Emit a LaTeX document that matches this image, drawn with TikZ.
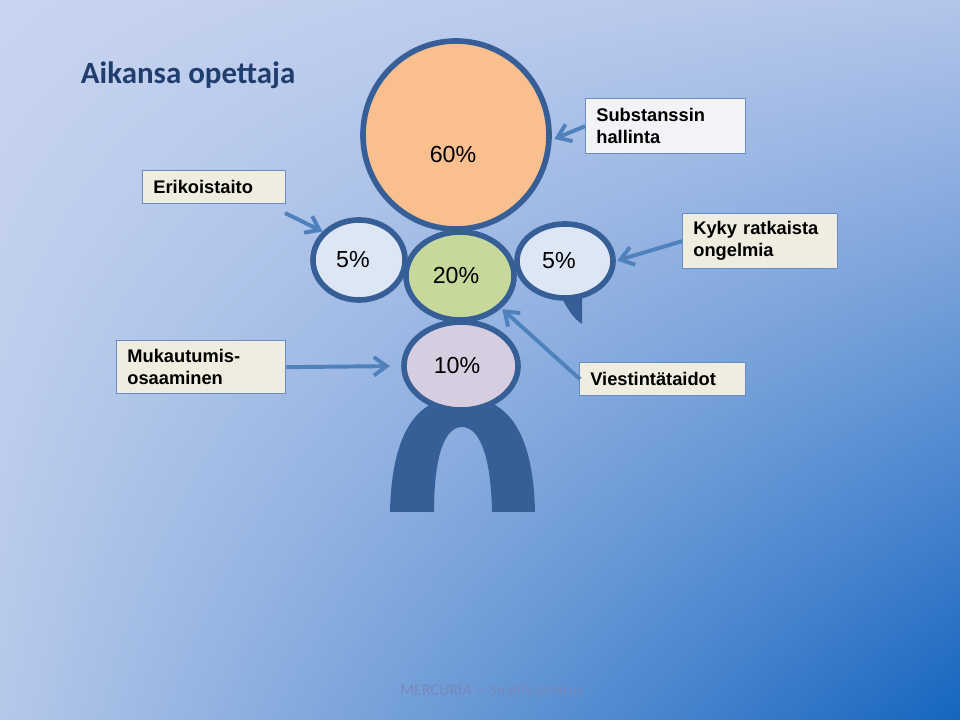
\documentclass[tikz,border=0pt]{standalone}
\usepackage{fontspec}
\setmainfont{Liberation Sans}
\newfontfamily\calibrifont{Carlito}
\usepackage{xcolor}
\usepackage{tikz}
\usetikzlibrary{shapes.geometric,shadings,calc}
\usetikzlibrary{arrows.meta,positioning}

\definecolor{bgTL}{HTML}{C8D4F0}
\definecolor{bgTR}{HTML}{B3C5EA}
\definecolor{bgBL}{HTML}{B5C8EA}
\definecolor{bgBR}{HTML}{1565C0}
\definecolor{rim}{HTML}{375F97}
\definecolor{pointer}{HTML}{4F81BD}
\definecolor{beige}{HTML}{EFECE0}
\definecolor{paper}{HTML}{F2F3F7}
\definecolor{boxline}{HTML}{6A8CC4}
\definecolor{titleblue}{HTML}{1F3E6E}
\definecolor{orangepart}{HTML}{F9BF8F}
\definecolor{greenpart}{HTML}{C6D89A}
\definecolor{lilacpart}{HTML}{D6CDE0}
\definecolor{palepart}{HTML}{DDE6F4}
\definecolor{footgray}{HTML}{7888BC}

\tikzset{
  part/.style={ellipse,draw=rim,line width=4pt,inner sep=0pt},
  pct/.style={font=\fontsize{16.5}{18}\selectfont},
  infobox/.style={draw=boxline,line width=0.8pt,anchor=north west,align=left,
    inner xsep=0.27cm,font=\bfseries\fontsize{13}{15.5}\selectfont},
  pointto/.style={draw=pointer,line width=2.8pt,-{Straight Barb[length=9pt,width=13pt]}},
}

\begin{document}
\begin{tikzpicture}[x=0.025cm,y=-0.025cm]
		\useasboundingbox (0,0) rectangle (960,720);
		\shade[upper left=bgTL,upper right=bgTR,lower left=bgBL,lower right=bgBR] (0,0) rectangle (960,720);
		\node[anchor=base west,text=titleblue,font=\calibrifont\bfseries\fontsize{22}{26}\selectfont] (title) at (76,84) {Aikansa opettaja};
		% legs and the tail of the speech bubble
		\fill[rim] (390,512) .. controls (392,420) and (425,397) .. (462,397) .. controls (500,397) and (533,420) .. (535,512) -- (492,512) .. controls (491,452) and (478,427) .. (462,427) .. controls (446,427) and (434,452) .. (434,512) -- cycle;
		\fill[rim] (558,290) .. controls (566,308) and (574,319) .. (582,324) -- (582,292) -- cycle;
		% the parts
		\node[part,fill=orangepart,minimum width=4.65cm,minimum height=4.7cm] (big) at (456,135) {};
		\node[pct] (p60) at (453,155) {60\%};
		\node[part,fill=palepart,minimum width=2.3cm,minimum height=2cm,pct] (leftfive) at (359,260) {\hspace*{-0.3cm}5\%};
		\node[part,fill=palepart,minimum width=2.4cm,minimum height=1.85cm,pct] (rightfive) at (565,261) {\hspace*{-0.3cm}5\%};
		\node[part,fill=greenpart,minimum width=2.7cm,minimum height=2.2cm,pct] (twenty) at (460,276) {\hspace*{-0.2cm}\raisebox{-0.5ex}{20\%}};
		\node[part,fill=lilacpart,minimum width=2.85cm,minimum height=2.2cm,pct] (ten) at (461,366) {\hspace*{-0.2cm}\raisebox{-0.3ex}{10\%}};
		% the labels
		\node[infobox,fill=beige,text width=3.04cm,minimum width=3.58cm,minimum height=0.83cm] (erik) at (142,170) {Erikoistaito};
		\node[infobox,fill=paper,text width=3.46cm,minimum width=4cm,minimum height=1.38cm] (subst) at (585,98) {Substanssin\\hallinta};
		\node[infobox,fill=beige,text width=3.34cm,minimum width=3.88cm,minimum height=1.38cm] (kyky) at (682,213) {Kyky ratkaista\\ongelmia};
		\node[infobox,fill=beige,text width=3.69cm,minimum width=4.23cm,minimum height=1.33cm] (muk) at (116,340) {Mukautumis-\\osaaminen};
		\node[infobox,fill=beige,text width=3.61cm,minimum width=4.15cm,minimum height=0.83cm] (viest) at (579,362) {Viestintätaidot};
		\coordinate (erikout) at (285,213);
		\draw[pointto] (erikout) -- (leftfive.142);
		\draw[pointto,shorten >=2pt] (subst.west) -- (big.-3);
		\draw[pointto,shorten >=1pt] (kyky.west) -- (rightfive.east);
		\draw[pointto,shorten >=8pt] (muk.east) -- (ten.west);
		\draw[pointto,shorten >=1pt] ($(viest.west)+(1,0)$) -- (twenty.-38);
		\node[text=footgray,font=\calibrifont\fontsize{11.5}{13}\selectfont] (foot) at (492,690) {MERCURIA -- Smalls centrus};
\end{tikzpicture}
\end{document}
